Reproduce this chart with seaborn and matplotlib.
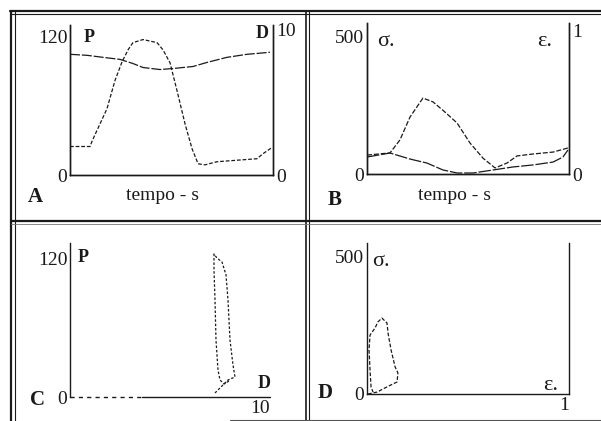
import matplotlib
matplotlib.use("Agg")
import matplotlib.pyplot as plt
import seaborn as sns
import pandas as pd
from matplotlib.lines import Line2D

# ---------------- data ----------------
# Panel A: pressure P and diameter D vs time (time in % of record)
tA_P = [0, 9.9, 10.8, 18.2, 22.2, 25.6, 28.6, 31.0, 36.0, 42.9, 45.8, 49.3,
        52.7, 56.7, 60.1, 63.1, 66.5, 72.4, 92.1, 95.1, 99.5]
P_A = [24.7, 24.7, 29.1, 57.4, 82.1, 97.9, 108.5, 114.7, 117.4, 114.7, 108.5,
       97.1, 73.2, 44.1, 22.9, 9.7, 8.8, 11.5, 14.1, 18.5, 23.8]
tA_D = [0, 8.4, 16.3, 24.6, 30.9, 36.0, 44.3, 50.7, 60.6, 67.5, 77.3, 87.2, 98.5]
D_A = [8.32, 8.25, 8.11, 7.97, 7.69, 7.41, 7.27, 7.34, 7.48, 7.76, 8.11, 8.32, 8.46]

# Panel B: stress sigma and strain epsilon vs time
tB_s = [0, 11.4, 16.3, 21.3, 27.7, 32.7, 38.6, 44.6, 51.0, 57.4, 63.4, 69.3,
        74.3, 82.2, 92.1, 99.5]
sigma_B = [69, 77, 124, 208, 277, 263, 226, 186, 113, 58, 22, 40, 66, 73, 80, 95]
tB_e = [0, 11.4, 21.3, 29.7, 37.6, 44.6, 52.5, 62.4, 72.3, 82.2, 92.1, 97.0, 99.5]
eps_B = [0.118, 0.146, 0.104, 0.076, 0.028, 0.007, 0.007, 0.028, 0.049, 0.063,
         0.083, 0.118, 0.167]

# Panel C: P vs D loop
D_C = [7.25, 7.65, 7.9, 8.25, 8.15, 8.0, 7.9, 7.8, 7.6, 7.35, 7.2, 7.2, 7.25,
       7.3, 7.4, 7.5, 7.7, 7.95]
P_C = [3.5, 10.4, 14.7, 17.3, 27.6, 49.2, 83.8, 105.4, 116.6, 120.0, 123.5,
       109.7, 83.8, 49.2, 23.3, 14.7, 11.2, 13.8]

# Panel D: sigma vs epsilon loop
eps_D = [0.005, 0.05, 0.099, 0.149, 0.153, 0.139, 0.119, 0.104, 0.099, 0.074,
         0.054, 0.040, 0.015, 0.010, 0.015, 0.020, 0.030]
sigma_D = [0, 7, 26, 44, 77, 99, 161, 223, 259, 277, 263, 241, 215, 161, 88, 26, 7]

# ---------------- figure ----------------
sns.set_style("white")
plt.rcParams["font.family"] = ["Liberation Serif", "DejaVu Serif"]
plt.rcParams["mathtext.fontset"] = "stix"

W, H = 601, 421
fig = plt.figure(figsize=(W / 100, H / 100), dpi=100)
fig.patch.set_facecolor("white")

INK = "#1a1a1a"


def add_ax(left, top, right, bottom):
    return fig.add_axes([left / W, 1 - bottom / H, (right - left) / W, (bottom - top) / H])


def ftext(x, y, s, **kw):
    fig.text(x / W, 1 - y / H, s, color=INK, **kw)


def fline(x0, y0, x1, y1, lw=1.2, color=INK):
    fig.add_artist(Line2D([x0 / W, x1 / W], [1 - y0 / H, 1 - y1 / H], lw=lw,
                          color=color, transform=fig.transFigure))


def style(ax, left=True, right=False, bottom=True):
    ax.set_facecolor("none")
    for side, vis in (("left", left), ("right", right), ("bottom", bottom), ("top", False)):
        ax.spines[side].set_visible(vis)
        ax.spines[side].set_color(INK)
        ax.spines[side].set_linewidth(1.0)
    ax.tick_params(length=0, labelsize=14, colors=INK, pad=2)
    ax.set_xlabel("")
    ax.set_ylabel("")


# Panel A
axA = add_ax(70, 25, 273, 175)
sns.lineplot(x=tA_P, y=P_A, ax=axA, color=INK, lw=0.9, linestyle=(0, (3, 1.5)),
             sort=False, estimator=None)
axA.set_xlim(0, 100)
axA.set_ylim(0, 130)
axA.set_xticks([])
axA.set_yticks([0, 120])
axA.set_yticklabels(["0", "120"])
style(axA, left=True, right=True, bottom=True)
axA2 = axA.twinx()
sns.lineplot(x=tA_D, y=D_A, ax=axA2, color=INK, lw=0.9, linestyle=(0, (8, 1.5)),
             sort=False, estimator=None)
axA2.set_ylim(0, 10.34)
axA2.set_yticks([0, 10])
axA2.set_yticklabels(["0", "10"])
style(axA2, left=True, right=True, bottom=True)

# Panel B
axB = add_ax(367, 23, 569, 174)
sns.lineplot(x=tB_s, y=sigma_B, ax=axB, color=INK, lw=0.9, linestyle=(0, (4, 1.5)),
             sort=False, estimator=None)
axB.set_xlim(0, 100)
axB.set_ylim(0, 551)
axB.set_xticks([])
axB.set_yticks([0, 500])
axB.set_yticklabels(["0", "500"])
style(axB, left=True, right=True, bottom=True)
axB2 = axB.twinx()
sns.lineplot(x=tB_e, y=eps_B, ax=axB2, color=INK, lw=0.9, linestyle=(0, (10, 1.5)),
             sort=False, estimator=None)
axB2.set_ylim(0, 1.05)
axB2.set_yticks([0, 1])
axB2.set_yticklabels(["0", "1"])
style(axB2, left=True, right=True, bottom=True)

# Panel C
axC = add_ax(70, 243, 270, 397)
sns.lineplot(x=D_C, y=P_C, ax=axC, color=INK, lw=0.9, linestyle=(0, (2, 1.5)),
             sort=False, estimator=None)
axC.set_xlim(0, 10)
axC.set_ylim(0, 133)
axC.set_xticks([10])
axC.set_xticklabels(["10"], ha="right")
axC.set_yticks([0, 120])
axC.set_yticklabels(["0", "120"])
style(axC, left=True, right=False, bottom=False)
axC.axhline(0, xmin=0, xmax=0.36, color=INK, lw=1.0, ls=(0, (3, 3)), clip_on=False)
axC.axhline(0, xmin=0.36, xmax=1, color=INK, lw=1.0, clip_on=False)

# Panel D
axD = add_ax(367, 243, 569, 394)
sns.lineplot(x=eps_D, y=sigma_D, ax=axD, color=INK, lw=0.9, linestyle=(0, (3, 1.5)),
             sort=False, estimator=None)
axD.set_xlim(0, 1)
axD.set_ylim(0, 551)
axD.set_xticks([1])
axD.set_xticklabels(["1"], ha="right")
axD.set_yticks([0, 500])
axD.set_yticklabels(["0", "500"])
style(axD, left=True, right=True, bottom=True)

# ---------------- texts ----------------
ftext(84, 37, "P", fontsize=13, fontweight="bold", va="center")
ftext(256, 33, "D", fontsize=13, fontweight="bold", va="center")
ftext(28, 197, "A", fontsize=15, fontweight="bold", va="center")
ftext(162, 195, "tempo - s", fontsize=14, ha="center", va="center")

ftext(377, 42, "σ.", fontsize=16, va="center")
ftext(537, 42, "ε.", fontsize=16, va="center")
ftext(328, 200, "B", fontsize=15, fontweight="bold", va="center")
ftext(455, 195, "tempo - s", fontsize=14, ha="center", va="center")

ftext(78, 258, "P", fontsize=13, fontweight="bold", va="center")
ftext(258, 383, "D", fontsize=13, fontweight="bold", va="center")
ftext(30, 400, "C", fontsize=15, fontweight="bold", va="center")

ftext(372, 262, "σ.", fontsize=16, va="center")
ftext(543, 386, "ε.", fontsize=16, va="center")
ftext(318, 393, "D", fontsize=15, fontweight="bold", va="center")

# ---------------- panel frame (scanned grid) ----------------
fline(10, 11, 601, 11, lw=1.6)
fline(10, 14, 601, 14, lw=0.8)
fline(11, 11, 11, 421, lw=1.6)
fline(15, 11, 15, 421, lw=0.8)
fline(306, 11, 306, 421, lw=1.2)
fline(309, 11, 309, 421, lw=0.8)
fline(11, 221, 601, 221, lw=1.6)
fline(11, 224, 601, 224, lw=0.6, color="#777777")
fline(230, 420, 601, 420, lw=0.8, color="#555555")

fig.savefig("out.png", dpi=100, facecolor="white")
